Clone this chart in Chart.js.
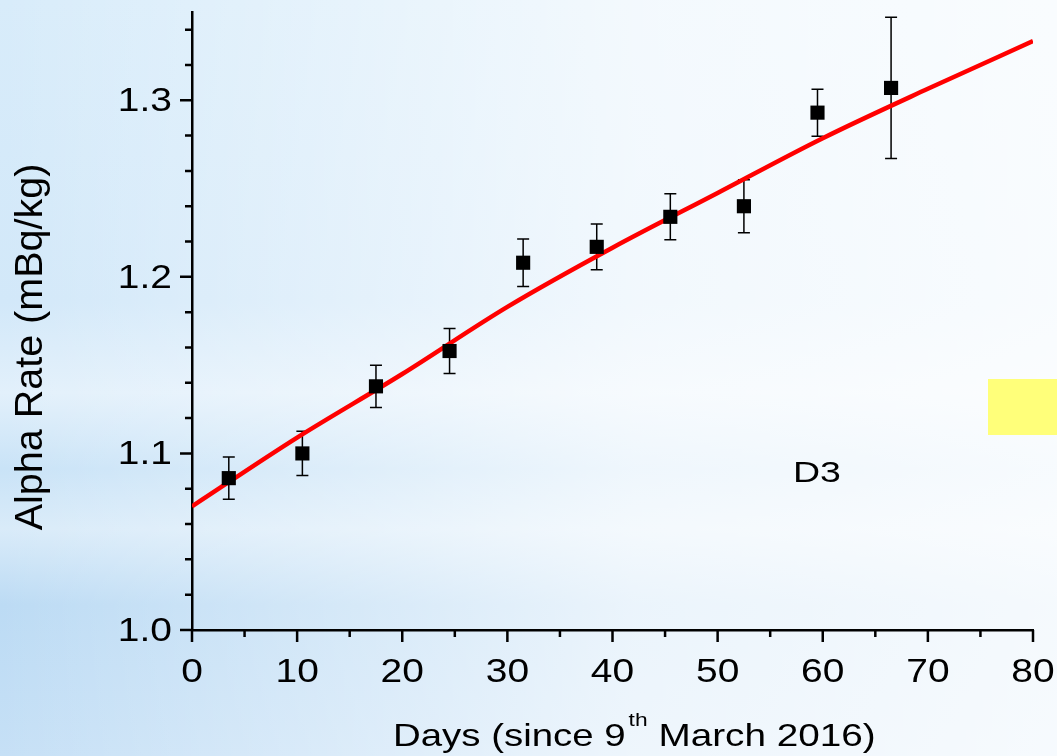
<!DOCTYPE html>
<html>
<head>
<meta charset="utf-8">
<script src="https://cdn.jsdelivr.net/npm/chart.js@4.4.1/dist/chart.umd.min.js"></script>
<style>
  html, body { margin: 0; padding: 0; width: 1057px; height: 756px; overflow: hidden; }
  body {
    background:
      linear-gradient(90deg, rgba(255,255,255,0) 0%, rgba(255,255,255,0.35) 30%, rgba(255,255,255,0.7) 60%, rgba(255,255,255,0.85) 100%),
      linear-gradient(180deg, #d8ecfa 0%, #d2e8f9 40%, #e2f0fb 52%, #c9e3f7 62%, #d9ebf9 70%, #bcdbf4 80%, #c6e0f6 100%);
  }
  #wrap { position: relative; width: 1057px; height: 756px; }
  #note { position: absolute; left: 988px; top: 379px; width: 69px; height: 56px; background: #ffff7a; }
</style>
</head>
<body>
<div id="wrap">
  <canvas id="chart" width="1057" height="756"></canvas>
  <div id="note"></div>
</div>
<script>
// measured points (days since 9th March 2016)
const days = [3.5, 10.5, 17.5, 24.5, 31.5, 38.5, 45.5, 52.5, 59.5, 66.5];
const alphaRate = [1.086, 1.100, 1.138, 1.158, 1.208, 1.217, 1.234, 1.240, 1.293, 1.307];
const rateError = [0.012, 0.0125, 0.012, 0.0128, 0.0135, 0.013, 0.013, 0.015, 0.0133, 0.040];

// fitted curve
const fitDays = [0, 10, 20, 30, 40, 50, 60, 70, 80];
const fitRate = [1.070, 1.109, 1.145, 1.183, 1.2165, 1.2475, 1.2785, 1.3065, 1.3335];

// axis ticks
const xMajorTicks = [0, 10, 20, 30, 40, 50, 60, 70, 80];
const xMinorTicks = [5, 15, 25, 35, 45, 55, 65, 75];
const yMajorTicks = [1.0, 1.1, 1.2, 1.3];
const yMinorTicks = [1.02, 1.04, 1.06, 1.08, 1.12, 1.14, 1.16, 1.18, 1.22, 1.24, 1.26, 1.28, 1.32, 1.34];

const FONT = "'Liberation Sans', Arial, Helvetica, sans-serif";
const STRETCH = 1.18; // the original text is drawn a bit wide

// draw text stretched horizontally around its anchor, returns drawn width
function wideText(ctx, text, x, y, align, sx) {
  ctx.save();
  ctx.translate(x, y);
  ctx.scale(sx, 1);
  ctx.textAlign = align;
  ctx.fillText(text, 0, 0);
  const w = ctx.measureText(text).width * sx;
  ctx.restore();
  return w;
}

// error bars under the squares
const errorBars = {
  id: 'errorBars',
  beforeDatasetsDraw(chart) {
    const { ctx, scales: { x, y } } = chart;
    ctx.save();
    ctx.strokeStyle = '#000';
    ctx.lineWidth = 1.5;
    days.forEach((d, i) => {
      const px = x.getPixelForValue(d);
      const top = y.getPixelForValue(alphaRate[i] + rateError[i]);
      const bot = y.getPixelForValue(alphaRate[i] - rateError[i]);
      ctx.beginPath();
      ctx.moveTo(px, top); ctx.lineTo(px, bot);
      ctx.moveTo(px - 6, top); ctx.lineTo(px + 6, top);
      ctx.moveTo(px - 6, bot); ctx.lineTo(px + 6, bot);
      ctx.stroke();
    });
    ctx.restore();
  }
};

// tick marks, tick labels, axis titles and the D3 label
const decorations = {
  id: 'decorations',
  afterDraw(chart) {
    const { ctx, scales: { x, y } } = chart;
    const x0 = x.getPixelForValue(0);
    const y0 = y.getPixelForValue(1.0);
    ctx.save();
    ctx.strokeStyle = '#000';
    ctx.lineWidth = 2.5;
    ctx.beginPath();
    xMajorTicks.forEach(v => { const p = x.getPixelForValue(v); ctx.moveTo(p, y0); ctx.lineTo(p, y0 + 12); });
    xMinorTicks.forEach(v => { const p = x.getPixelForValue(v); ctx.moveTo(p, y0); ctx.lineTo(p, y0 + 7); });
    yMajorTicks.forEach(v => { const p = y.getPixelForValue(v); ctx.moveTo(x0, p); ctx.lineTo(x0 - 12, p); });
    yMinorTicks.forEach(v => { const p = y.getPixelForValue(v); ctx.moveTo(x0, p); ctx.lineTo(x0 - 7, p); });
    ctx.stroke();

    ctx.fillStyle = '#000';
    ctx.font = '33px ' + FONT;

    // tick labels
    ctx.textBaseline = 'alphabetic';
    xMajorTicks.forEach(v => wideText(ctx, String(v), x.getPixelForValue(v), y0 + 52, 'center', STRETCH));
    yMajorTicks.forEach(v => wideText(ctx, v.toFixed(1), x0 - 20, y.getPixelForValue(v) + 11, 'right', STRETCH));

    // x title with superscript
    const base = 746;
    let tx = 393;
    ctx.font = '32px ' + FONT;
    tx += wideText(ctx, 'Days (since 9', tx, base, 'left', 1.2);
    ctx.font = '19px ' + FONT;
    tx += wideText(ctx, 'th', tx + 3, base - 20, 'left', 1.2) + 3;
    ctx.font = '32px ' + FONT;
    wideText(ctx, ' March 2016)', tx, base, 'left', 1.21);

    // y title
    ctx.save();
    ctx.translate(42, 347);
    ctx.rotate(-Math.PI / 2);
    ctx.font = '39.5px ' + FONT;
    ctx.textAlign = 'center';
    ctx.textBaseline = 'alphabetic';
    ctx.fillText('Alpha Rate (mBq/kg)', 0, 0);
    ctx.restore();

    // panel label
    ctx.font = '30px ' + FONT;
    wideText(ctx, 'D3', 793, 482, 'left', 1.25);
    ctx.restore();
  }
};

new Chart(document.getElementById('chart'), {
  type: 'scatter',
  data: {
    datasets: [
      {
        label: 'fit',
        type: 'line',
        data: fitDays.map((d, i) => ({ x: d, y: fitRate[i] })),
        borderColor: '#ff0000',
        borderWidth: 4.5,
        pointRadius: 0,
        fill: false,
        cubicInterpolationMode: 'monotone',
        order: 2
      },
      {
        label: 'D3',
        data: days.map((d, i) => ({ x: d, y: alphaRate[i] })),
        pointStyle: 'rect',
        pointRadius: 10,
        backgroundColor: '#000',
        borderColor: '#000',
        borderWidth: 0,
        order: 1
      }
    ]
  },
  options: {
    responsive: false,
    animation: false,
    layout: { padding: { top: 12, right: 24, left: 0, bottom: 0 } },
    plugins: { legend: { display: false }, tooltip: { enabled: false } },
    scales: {
      x: {
        type: 'linear',
        min: 0, max: 80,
        grid: { display: false },
        border: { display: true, color: '#000', width: 2.5 },
        ticks: { display: false, stepSize: 10 },
        afterFit: s => { s.height = 126; }
      },
      y: {
        type: 'linear',
        min: 1.0, max: 1.35,
        grid: { display: false },
        border: { display: true, color: '#000', width: 2.5 },
        ticks: { display: false, stepSize: 0.1 },
        afterFit: s => { s.width = 192; }
      }
    }
  },
  plugins: [errorBars, decorations]
});
</script>
</body>
</html>
